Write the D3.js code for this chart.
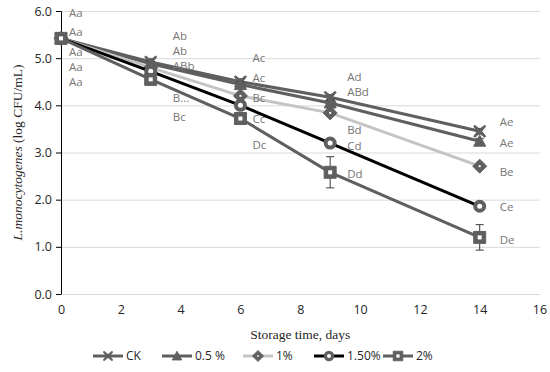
<!DOCTYPE html>
<html>
<head>
<meta charset="utf-8">
<script src="https://cdn.jsdelivr.net/npm/d3@7"></script>
<style>
body { margin: 0; background: #fff; }
.tick text { font-family: "Open Sans", "Liberation Sans", sans-serif; font-size: 12.5px; fill: #262626; }
.lbl { font-family: "Open Sans", "Liberation Sans", sans-serif; font-size: 11.5px; fill: #767676; }
.leg { font-family: "Open Sans", "Liberation Sans", sans-serif; font-size: 12px; fill: #262626; }
</style>
</head>
<body>
<div id="plot-container"></div>
<script>
// data
var days = [0, 3, 6, 9, 14];
var seriesNames = ['CK', '0.5 %', '1%', '1.50%', '2%'];
var ckVals = [5.42, 4.92, 4.50, 4.17, 3.45];
var p05Vals = [5.42, 4.88, 4.44, 4.05, 3.24];
var p1Vals = [5.42, 4.80, 4.20, 3.84, 2.71];
var p15Vals = [5.42, 4.72, 4.00, 3.20, 1.86];
var p2Vals = [5.42, 4.55, 3.72, 2.58, 1.20];
var p2Err = [0.05, 0.06, 0.10, 0.33, 0.27];
var smallErr = [0.04, 0.05, 0.06, 0.06, 0.06];
// significance letters and where they sit (value units)
var ckLetters = ['Aa', 'Ab', 'Ac', 'Ad', 'Ae'];
var p05Letters = ['Aa', 'Ab', 'Ac', 'ABd', 'Ae'];
var p1Letters = ['Aa', 'ABb', 'Bc', 'Bd', 'Be'];
var p15Letters = ['Aa', 'B...', 'Cc', 'Cd', 'Ce'];
var p2Letters = ['Aa', 'Bc', 'Dc', 'Dd', 'De'];
var ckLabelY = [5.96, 5.48, 5.00, 4.60, 3.65];
var p05LabelY = [5.55, 5.15, 4.58, 4.28, 3.20];
var p1LabelY = [5.13, 4.83, 4.16, 3.48, 2.59];
var p15LabelY = [4.81, 4.16, 3.71, 3.14, 1.84];
var p2LabelY = [4.49, 3.75, 3.16, 2.54, 1.14];
var xTicks = [0, 2, 4, 6, 8, 10, 12, 14, 16];
var yTicks = [0, 1, 2, 3, 4, 5, 6];

var series = [
  {name: seriesNames[0], vals: ckVals, err: smallErr, letters: ckLetters, ly: ckLabelY, line: '#5f5f5f', lw: 3, marker: 'x'},
  {name: seriesNames[1], vals: p05Vals, err: smallErr, letters: p05Letters, ly: p05LabelY, line: '#5f5f5f', lw: 3, marker: 'tri'},
  {name: seriesNames[2], vals: p1Vals, err: smallErr, letters: p1Letters, ly: p1LabelY, line: '#c4c4c4', lw: 3, marker: 'dia'},
  {name: seriesNames[3], vals: p15Vals, err: smallErr, letters: p15Letters, ly: p15LabelY, line: '#000000', lw: 3, marker: 'circ'},
  {name: seriesNames[4], vals: p2Vals, err: p2Err, letters: p2Letters, ly: p2LabelY, line: '#5f5f5f', lw: 3, marker: 'sq'}
];
var labelDx = [8, 22, 12, 17, 20];

var totalWidth = 550, totalHeight = 372;
var margins = {top: 11, left: 61, right: 10, bottom: 78};
var width = 539.5 - margins.left;
var height = 294 - margins.top;

var x = d3.scaleLinear().domain([0, 16]).range([0, width]);
var y = d3.scaleLinear().domain([0, 6]).range([height, 0]);

var svg = d3.select('#plot-container').append('svg').attr('width', totalWidth).attr('height', totalHeight);
var plot = svg.append('g').attr('transform', 'translate(' + [margins.left, margins.top] + ')');

// grid
plot.selectAll('line.grid').data(yTicks.filter(function(d) { return d > 0; })).enter().append('line')
  .attr('x1', 0).attr('x2', width).attr('y1', function(d) { return y(d) + 0.5; }).attr('y2', function(d) { return y(d) + 0.5; })
  .attr('stroke', '#d9d9d9').attr('stroke-width', 1);

// axes
var yAxis = plot.append('g').call(d3.axisLeft(y).tickValues(yTicks).tickFormat(d3.format('.1f')).tickSize(5).tickPadding(4));
yAxis.select('.domain').attr('stroke', '#000');
yAxis.selectAll('.tick line').attr('stroke', '#000');
var xAxis = plot.append('g').attr('transform', 'translate(0,' + height + ')')
  .call(d3.axisBottom(x).tickValues(xTicks).tickSize(0).tickPadding(11));
xAxis.select('.domain').attr('stroke', '#d9d9d9');

var line = d3.line().x(function(d, i) { return x(days[i]); }).y(function(d) { return y(d); });

function markerPath(type) {
  if (type === 'x') return 'M-5,-6 L0,-2 L5,-6 L6,-5 L2,0 L6,5 L5,6 L0,2 L-5,6 L-6,5 L-2,0 L-6,-5 Z';
  if (type === 'tri') return 'M0,-6 L6,5 L-6,5 Z';
  if (type === 'dia') return 'M0,-7 L7,0 L0,7 L-7,0 Z';
  if (type === 'sq') return 'M-6,-6 L6,-6 L6,6 L-6,6 Z';
  return null;
}

function drawMarker(g, s) {
  if (s.marker === 'circ') {
    g.append('circle').attr('r', 4.5).attr('fill', '#fff').attr('stroke', '#5f5f5f').attr('stroke-width', 4);
  } else {
    g.append('path').attr('d', markerPath(s.marker)).attr('fill', '#5f5f5f').attr('stroke', '#5f5f5f').attr('stroke-width', 1);
    if (s.marker === 'sq') g.append('rect').attr('x', -2).attr('y', -2).attr('width', 4).attr('height', 4).attr('fill', '#fff');
    if (s.marker === 'dia') g.append('rect').attr('x', -1).attr('y', -1).attr('width', 2).attr('height', 2).attr('fill', '#fff');
  }
}

series.forEach(function(s) {
  var g = plot.append('g');
  g.append('path').datum(s.vals).attr('d', line).attr('fill', 'none').attr('stroke', s.line).attr('stroke-width', s.lw);
  // error bars
  s.vals.forEach(function(v, i) {
    var cx = x(days[i]);
    var eb = g.append('g').attr('stroke', '#3a3a3a').attr('stroke-width', 1);
    eb.append('line').attr('x1', cx).attr('x2', cx).attr('y1', y(v - s.err[i])).attr('y2', y(v + s.err[i]));
    eb.append('line').attr('x1', cx - 4).attr('x2', cx + 4).attr('y1', y(v - s.err[i])).attr('y2', y(v - s.err[i]));
    eb.append('line').attr('x1', cx - 4).attr('x2', cx + 4).attr('y1', y(v + s.err[i])).attr('y2', y(v + s.err[i]));
  });
  s.vals.forEach(function(v, i) {
    var m = g.append('g').attr('transform', 'translate(' + [x(days[i]), y(v)] + ')');
    drawMarker(m, s);
  });
});

// letters
series.forEach(function(s) {
  plot.selectAll(null).data(s.letters).enter().append('text').attr('class', 'lbl')
    .attr('x', function(d, i) { return x(days[i]) + labelDx[i]; })
    .attr('y', function(d, i) { return y(s.ly[i]); })
    .attr('dy', '0.35em')
    .text(function(d) { return d; });
});

// axis titles
svg.append('text').attr('x', margins.left + width / 2).attr('y', 339).attr('text-anchor', 'middle')
  .style('font-family', '"Liberation Serif", serif').style('font-size', '13.5px').attr('fill', '#262626')
  .text('Storage time, days');
var yt = svg.append('text').attr('transform', 'translate(22,' + (margins.top + height / 2) + ') rotate(-90)')
  .attr('text-anchor', 'middle').style('font-family', '"Liberation Serif", serif').style('font-size', '13.5px').attr('fill', '#262626');
yt.append('tspan').style('font-style', 'italic').text('L.monocytogenes');
yt.append('tspan').text(' (log CFU/mL)');

// legend
var legendX = [93, 162, 243, 314, 383];
var legend = svg.append('g').attr('transform', 'translate(0,356)');
series.forEach(function(s, i) {
  var lg = legend.append('g').attr('transform', 'translate(' + legendX[i] + ',0)');
  lg.append('line').attr('x1', 0).attr('x2', 30).attr('stroke', s.line).attr('stroke-width', s.lw);
  var m = lg.append('g').attr('transform', 'translate(15,0) scale(0.8)');
  drawMarker(m, s);
  lg.append('text').attr('x', 33).attr('dy', '0.35em').attr('class', 'leg').text(s.name);
});
</script>
</body>
</html>
